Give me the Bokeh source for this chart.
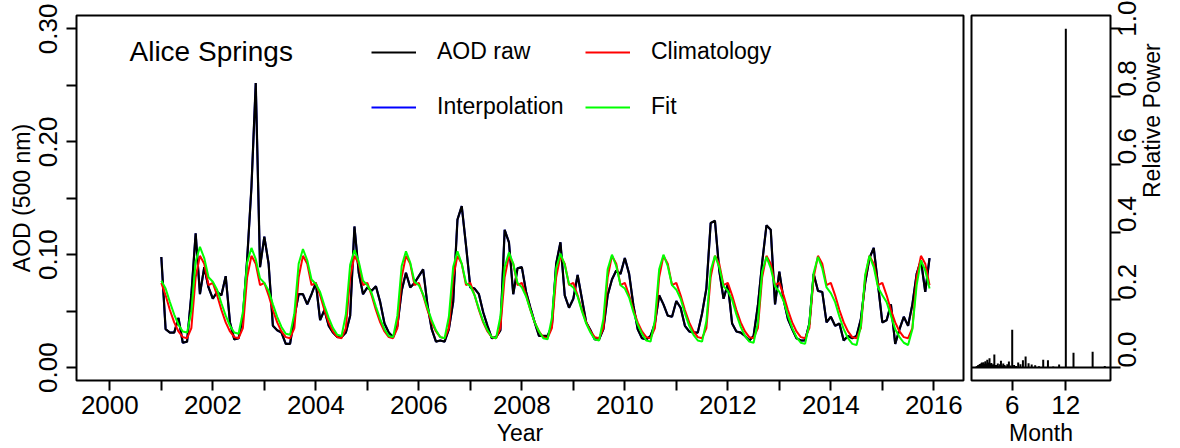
import math
import numpy as np
import pandas as pd
from bokeh.plotting import figure
from bokeh.layouts import row
from bokeh.models import Range1d, FixedTicker, Span, Legend, LegendItem, Label
from bokeh.embed import file_html
from bokeh.resources import INLINE

FONT = "Liberation Sans"

# data
station = "Alice Springs"
months = pd.date_range("2001-01-01", "2015-12-01", freq="MS")

# monthly AOD at 500 nm, one row per year 2001..2015
aod_raw = [
    0.098, 0.034, 0.031, 0.031, 0.044, 0.022, 0.023, 0.065, 0.119, 0.065, 0.089, 0.071,
    0.061, 0.067, 0.064, 0.081, 0.040, 0.025, 0.026, 0.045, 0.096, 0.160, 0.252, 0.089,
    0.116, 0.092, 0.037, 0.033, 0.031, 0.021, 0.021, 0.045, 0.065, 0.065, 0.056, 0.065,
    0.075, 0.042, 0.051, 0.037, 0.031, 0.027, 0.027, 0.031, 0.046, 0.125, 0.084, 0.065,
    0.071, 0.068, 0.072, 0.058, 0.039, 0.031, 0.027, 0.037, 0.068, 0.084, 0.071, 0.075,
    0.081, 0.087, 0.056, 0.034, 0.023, 0.024, 0.023, 0.034, 0.058, 0.131, 0.143, 0.108,
    0.071, 0.070, 0.065, 0.049, 0.037, 0.026, 0.027, 0.033, 0.122, 0.111, 0.065, 0.088,
    0.089, 0.067, 0.053, 0.040, 0.028, 0.028, 0.028, 0.037, 0.092, 0.111, 0.064, 0.053,
    0.061, 0.082, 0.061, 0.040, 0.033, 0.025, 0.025, 0.034, 0.064, 0.078, 0.086, 0.083,
    0.097, 0.083, 0.055, 0.034, 0.026, 0.025, 0.028, 0.039, 0.064, 0.056, 0.046, 0.045,
    0.059, 0.053, 0.037, 0.032, 0.031, 0.031, 0.048, 0.070, 0.128, 0.130, 0.086, 0.061,
    0.074, 0.039, 0.032, 0.031, 0.028, 0.024, 0.028, 0.055, 0.093, 0.126, 0.122, 0.056,
    0.085, 0.060, 0.043, 0.034, 0.026, 0.024, 0.024, 0.039, 0.083, 0.068, 0.067, 0.040,
    0.045, 0.037, 0.039, 0.024, 0.028, 0.026, 0.028, 0.043, 0.075, 0.097, 0.106, 0.073,
    0.040, 0.042, 0.056, 0.021, 0.034, 0.045, 0.037, 0.056, 0.083, 0.095, 0.067, 0.097,
]
# no gaps in this record, so the interpolated series is the raw one
aod_interp = list(aod_raw)

# mean annual cycle Jan..Dec
clim_month = [0.075, 0.064, 0.051, 0.040, 0.032, 0.027, 0.026, 0.035, 0.080, 0.099, 0.092, 0.073]

aod_fit = [
    0.077, 0.070, 0.058, 0.047, 0.038, 0.032, 0.031, 0.050, 0.094, 0.107, 0.097, 0.080,
    0.076, 0.069, 0.057, 0.046, 0.037, 0.031, 0.030, 0.049, 0.093, 0.106, 0.096, 0.079,
    0.075, 0.068, 0.056, 0.045, 0.036, 0.030, 0.029, 0.048, 0.092, 0.105, 0.095, 0.078,
    0.074, 0.067, 0.055, 0.044, 0.035, 0.029, 0.028, 0.047, 0.091, 0.104, 0.094, 0.077,
    0.073, 0.066, 0.054, 0.043, 0.034, 0.028, 0.027, 0.046, 0.090, 0.103, 0.093, 0.076,
    0.073, 0.065, 0.053, 0.042, 0.033, 0.027, 0.026, 0.045, 0.089, 0.103, 0.092, 0.075,
    0.072, 0.064, 0.052, 0.041, 0.033, 0.027, 0.026, 0.045, 0.089, 0.102, 0.092, 0.075,
    0.071, 0.063, 0.051, 0.040, 0.032, 0.026, 0.025, 0.044, 0.088, 0.101, 0.091, 0.074,
    0.071, 0.063, 0.050, 0.039, 0.031, 0.025, 0.024, 0.043, 0.087, 0.100, 0.090, 0.073,
    0.070, 0.062, 0.049, 0.038, 0.030, 0.024, 0.023, 0.042, 0.087, 0.100, 0.090, 0.073,
    0.069, 0.061, 0.048, 0.037, 0.029, 0.024, 0.023, 0.041, 0.086, 0.099, 0.089, 0.072,
    0.068, 0.060, 0.047, 0.036, 0.028, 0.023, 0.022, 0.040, 0.085, 0.098, 0.088, 0.072,
    0.067, 0.059, 0.046, 0.035, 0.027, 0.022, 0.021, 0.039, 0.084, 0.098, 0.088, 0.071,
    0.066, 0.058, 0.045, 0.034, 0.026, 0.021, 0.020, 0.037, 0.082, 0.099, 0.089, 0.071,
    0.064, 0.058, 0.046, 0.034, 0.027, 0.022, 0.020, 0.034, 0.073, 0.095, 0.086, 0.070,
]

# periodogram: period (months) and relative power
period = [
    16.36, 15.00, 13.85, 12.86, 12.00, 11.25, 10.59, 10.00, 9.47, 9.00,
    8.57, 8.18, 7.83, 7.50, 7.20, 6.92, 6.67, 6.43, 6.21, 6.00,
    5.81, 5.63, 5.45, 5.29, 5.14, 5.00, 4.86, 4.74, 4.62, 4.50,
    4.39, 4.29, 4.19, 4.09, 4.00, 3.91, 3.83, 3.75, 3.67, 3.60,
    3.53, 3.46, 3.40, 3.33, 3.27, 3.21, 3.16, 3.10, 3.05, 3.00,
    2.95, 2.90, 2.86, 2.81, 2.77, 2.73, 2.69, 2.65, 2.61, 2.57,
    2.54, 2.50, 2.47, 2.43, 2.40, 2.37, 2.34, 2.31, 2.28, 2.25,
    2.22, 2.20, 2.17, 2.14, 2.12, 2.09, 2.07, 2.05, 2.02, 2.00,
]
power = [
    0.005, 0.047, 0.002, 0.044, 1.000, 0.009, 0.003, 0.022, 0.023, 0.004,
    0.007, 0.009, 0.013, 0.033, 0.022, 0.010, 0.015, 0.005, 0.008, 0.112,
    0.006, 0.018, 0.010, 0.004, 0.008, 0.012, 0.006, 0.020, 0.010, 0.005,
    0.012, 0.004, 0.008, 0.006, 0.039, 0.010, 0.006, 0.009, 0.014, 0.005,
    0.012, 0.028, 0.010, 0.015, 0.006, 0.023, 0.008, 0.012, 0.004, 0.019,
    0.007, 0.011, 0.005, 0.016, 0.009, 0.004, 0.013, 0.006, 0.015, 0.010,
    0.004, 0.012, 0.007, 0.003, 0.011, 0.006, 0.009, 0.004, 0.008, 0.005,
    0.006, 0.003, 0.007, 0.004, 0.005, 0.002, 0.004, 0.003, 0.002, 0.003,
]

year_dec = np.asarray(months.year + (months.month - 1) / 12.0)
clim = np.tile(clim_month, len(months) // 12)

TICK_SIZE = "26px"
LABEL_SIZE = "23px"


def style_axis(ax, tick_standoff, label_standoff):
    ax.axis_line_color = None
    ax.major_tick_line_color = "black"
    ax.major_tick_line_width = 2
    ax.major_tick_out = 10
    ax.major_tick_in = 0
    ax.minor_tick_line_color = None
    ax.major_label_text_font = FONT
    ax.major_label_text_font_size = TICK_SIZE
    ax.major_label_text_color = "black"
    ax.major_label_standoff = tick_standoff
    ax.axis_label_text_font = FONT
    ax.axis_label_text_font_size = LABEL_SIZE
    ax.axis_label_text_font_style = "normal"
    ax.axis_label_text_color = "black"
    ax.axis_label_standoff = label_standoff


def style_fig(p):
    p.xgrid.visible = False
    p.ygrid.visible = False
    p.outline_line_color = "black"
    p.outline_line_width = 2
    p.outline_line_alpha = 1
    p.background_fill_color = "white"
    p.border_fill_color = "white"


# time series panel
p1 = figure(width=967, height=448, output_backend="svg", toolbar_location=None,
            x_range=Range1d(1999.353, 2016.576), y_range=Range1d(-0.01145, 0.3119),
            min_border_left=76, min_border_right=4, min_border_top=15, min_border_bottom=66)
style_fig(p1)

r_int = p1.line(year_dec, aod_interp, line_color="blue", line_width=2)
r_raw = p1.line(year_dec, aod_raw, line_color="black", line_width=2.2)
r_clim = p1.line(year_dec, clim, line_color="red", line_width=2)
r_fit = p1.line(year_dec, aod_fit, line_color="#00ff00", line_width=2)

p1.xaxis.ticker = FixedTicker(ticks=list(range(2000, 2017)))
p1.xaxis.major_label_overrides = {y: (str(y) if y % 2 == 0 else "") for y in range(2000, 2017)}
aod_ticks = [0.0, 0.05, 0.1, 0.15, 0.2, 0.25, 0.3]
p1.yaxis.ticker = FixedTicker(ticks=aod_ticks)
p1.yaxis.major_label_overrides = {0.0: "0.00", 0.05: "", 0.1: "0.10", 0.15: "",
                                  0.2: "0.20", 0.25: "", 0.3: "0.30"}
p1.yaxis.major_label_orientation = "vertical"
p1.xaxis.axis_label = "Year"
p1.yaxis.axis_label = "AOD (500 nm)"
for ax in p1.xaxis:
    style_axis(ax, 5, 3)
for ax in p1.yaxis:
    style_axis(ax, 9, 2)


def add_key(p, renderer, text, x, y):
    lg = Legend(items=[LegendItem(label=text, renderers=[renderer])], location=(x, y),
                glyph_width=45, glyph_height=20, label_standoff=21, padding=0, margin=0,
                border_line_color=None, background_fill_alpha=0,
                label_text_font=FONT, label_text_font_size="23px",
                label_text_color="black", label_height=26)
    p.add_layout(lg)


add_key(p1, r_raw, "AOD raw", 295, 315)
add_key(p1, r_clim, "Climatology", 509, 315)
add_key(p1, r_int, "Interpolation", 295, 260)
add_key(p1, r_fit, "Fit", 509, 260)

p1.add_layout(Label(x=53, y=329, x_units="screen", y_units="screen", text=station,
                    text_font=FONT, text_font_size="28px", text_baseline="middle",
                    text_color="black"))

# periodogram panel
p2 = figure(width=213, height=448, output_backend="svg", toolbar_location=None,
            x_range=Range1d(1.444, 17.0), y_range=Range1d(-0.038, 1.039),
            y_axis_location="right",
            min_border_left=4, min_border_right=69, min_border_top=15, min_border_bottom=66)
style_fig(p2)
p2.segment(x0=period, y0=[0] * len(period), x1=period, y1=power,
           line_color="black", line_width=2)
p2.add_layout(Span(location=0, dimension="width", line_color="black", line_width=2))

p2.xaxis.ticker = FixedTicker(ticks=[6, 12])
p2.yaxis.ticker = FixedTicker(ticks=[0.0, 0.2, 0.4, 0.6, 0.8, 1.0])
p2.yaxis.major_label_overrides = {0.0: "0.0", 0.2: "0.2", 0.4: "0.4", 0.6: "0.6",
                                  0.8: "0.8", 1.0: "1.0"}
p2.yaxis.major_label_orientation = math.pi / 2
p2.xaxis.axis_label = "Month"
p2.yaxis.axis_label = "Relative Power"
for ax in p2.xaxis:
    style_axis(ax, 5, 3)
for ax in p2.yaxis:
    style_axis(ax, 7, 3)
    # read bottom to top, as on the left-hand axis
    if "axis_label_orientation" in ax.properties():
        ax.axis_label_orientation = math.pi / 2

layout = row(p1, p2)
open("out.html", "w").write(file_html(layout, INLINE))
